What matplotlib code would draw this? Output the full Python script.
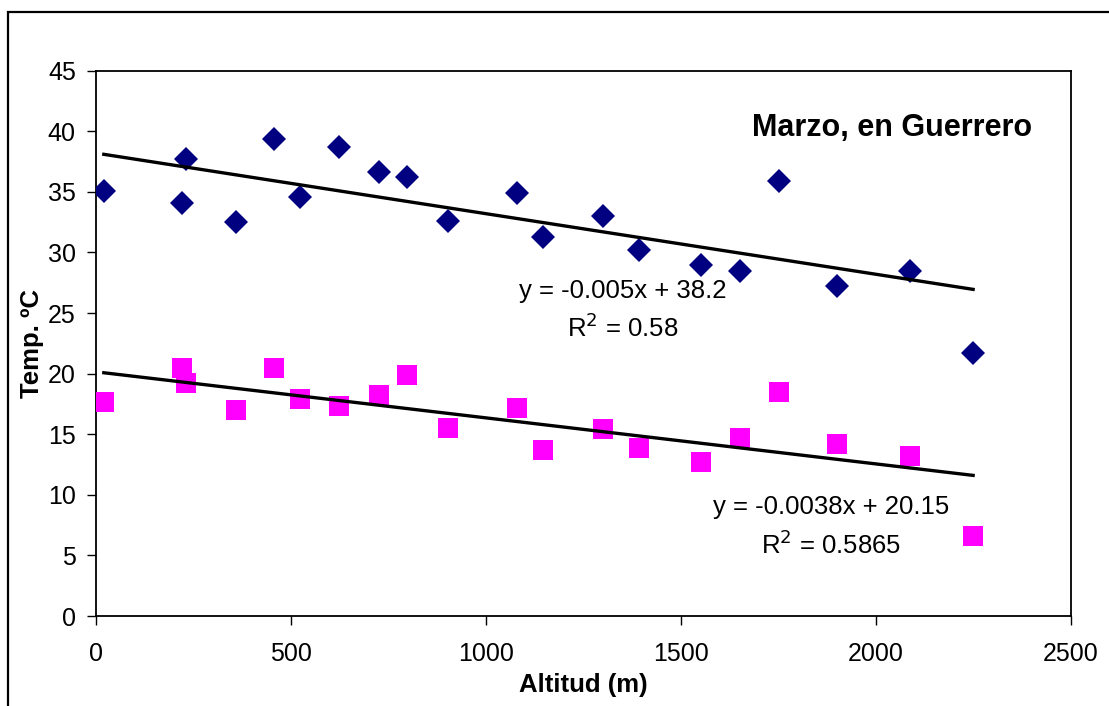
import numpy as np
import matplotlib
matplotlib.use("Agg")
import matplotlib.pyplot as plt
from matplotlib.patches import Rectangle

plt.rcParams['font.family'] = ['Liberation Sans', 'DejaVu Sans']

# Station altitudes (m) and March temperatures (°C) in Guerrero
altitud = [20, 220, 230, 358, 456, 522, 624, 726, 798, 902,
           1080, 1147, 1301, 1392, 1552, 1650, 1752, 1900, 2086, 2249]
temp_max = [35.1, 34.1, 37.7, 32.5, 39.4, 34.6, 38.7, 36.6, 36.2, 32.6,
            34.9, 31.3, 33.0, 30.2, 29.0, 28.5, 35.9, 27.2, 28.5, 21.7]
temp_min = [17.7, 20.5, 19.2, 17.0, 20.5, 17.9, 17.3, 18.2, 19.9, 15.5,
            17.2, 13.7, 15.4, 13.9, 12.7, 14.7, 18.5, 14.2, 13.2, 6.6]

# Linear trend coefficients (slope, intercept) and R² for each series
fit_max = (-0.005, 38.2)
fit_min = (-0.0038, 20.15)
r2_max = "0.58"
r2_min = "0.5865"

x_ticks = [0, 500, 1000, 1500, 2000, 2500]
y_ticks = [0, 5, 10, 15, 20, 25, 30, 35, 40, 45]

W, H = 1109, 706
fig = plt.figure(figsize=(W / 100, H / 100), dpi=100)
fig.patch.set_facecolor('white')

# Outer chart frame
fig.patches.append(Rectangle((8 / W, -0.1), 1.2, 1 - 12 / H + 0.1,
                             transform=fig.transFigure, fill=False,
                             edgecolor='black', linewidth=1.6, zorder=0))

ax = fig.add_axes([96 / W, 1 - 616 / H, (1071 - 96) / W, (616 - 70.7) / H])

ax.plot(altitud, temp_max, linestyle='none', marker='D', markersize=12,
        color='#000080', markeredgewidth=0, zorder=3)
ax.plot(altitud, temp_min, linestyle='none', marker='s', markersize=14.5,
        color='#FF00FF', markeredgewidth=0, zorder=3)

xs = np.array([min(altitud), max(altitud)])
ax.plot(xs, fit_max[0] * xs + fit_max[1], color='black', linewidth=2.4, zorder=4)
ax.plot(xs, fit_min[0] * xs + fit_min[1], color='black', linewidth=2.4, zorder=4)

ax.set_xlim(0, 2500)
ax.set_ylim(0, 45)
ax.set_xticks(x_ticks)
ax.set_yticks(y_ticks)
ax.tick_params(axis='both', direction='out', length=6.5, width=1.0,
               labelsize=18, colors='black')
ax.tick_params(axis='x', pad=12)
ax.tick_params(axis='y', pad=8)
for s in ax.spines.values():
    s.set_linewidth(1.3)
    s.set_color('black')

ax.set_xlabel('Altitud (m)', fontsize=18.5, fontweight='bold', labelpad=5)
ax.set_ylabel('Temp. ºC', fontsize=18.5, fontweight='bold', labelpad=3)

ax.text(2040, 40.3, 'Marzo, en Guerrero', fontsize=22, fontweight='bold',
        ha='center', va='center')

ax.text(1350, 26.8, f'y = {fit_max[0]}x + {fit_max[1]}', fontsize=18.5,
        ha='center', va='center')
ax.text(1350, 23.8, f'R$^2$ = {r2_max}', fontsize=18.5,
        ha='center', va='center')
ax.text(1885, 9.0, f'y = {fit_min[0]}x + {fit_min[1]}', fontsize=18.5,
        ha='center', va='center')
ax.text(1885, 5.9, f'R$^2$ = {r2_min}', fontsize=18.5,
        ha='center', va='center')

fig.savefig('out.png', dpi=100, facecolor='white')
